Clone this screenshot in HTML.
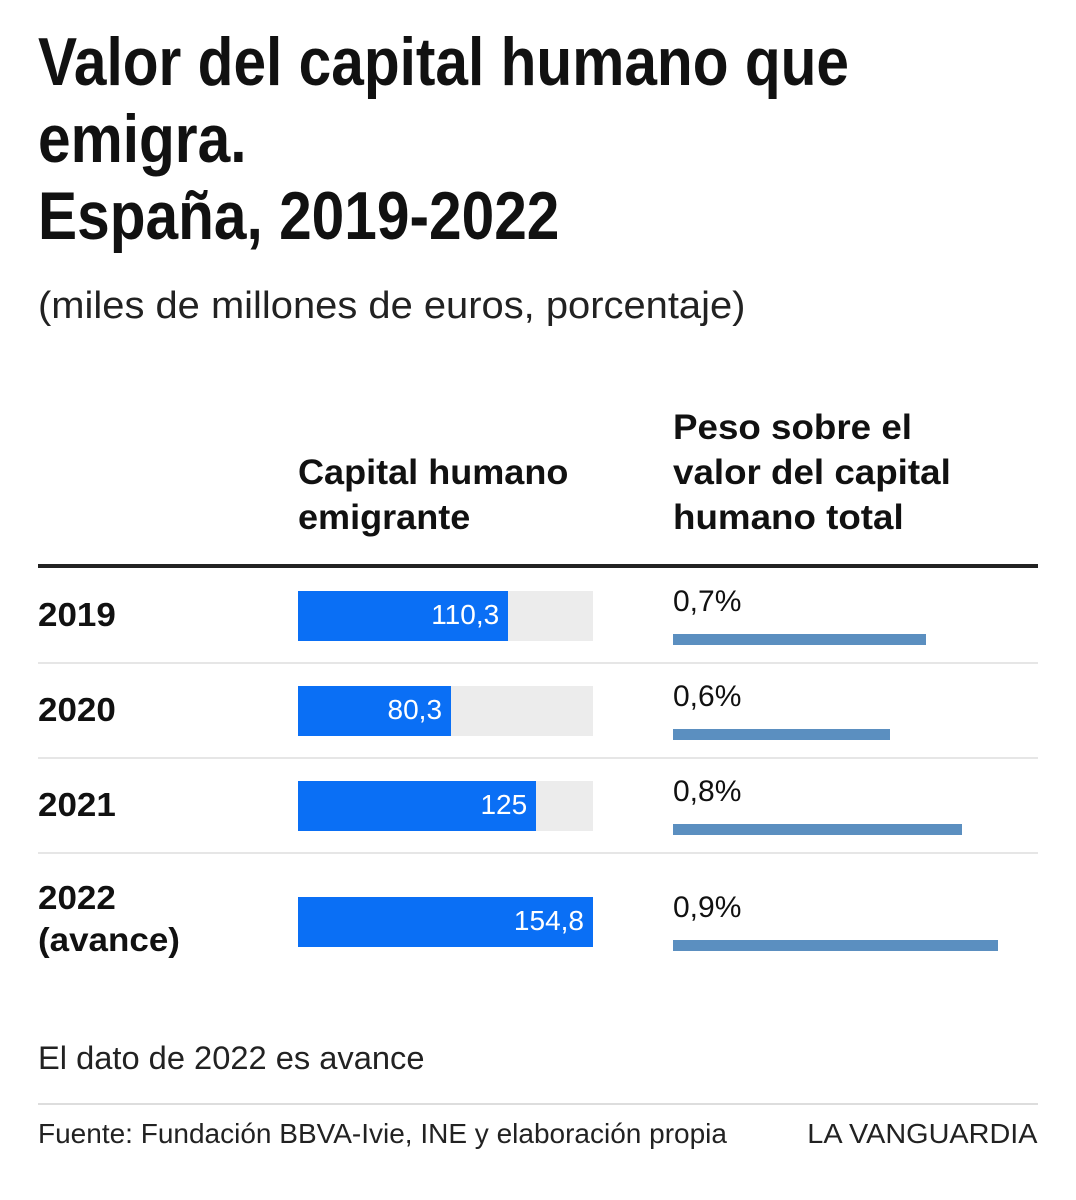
<!DOCTYPE html>
<html><head><meta charset="utf-8">
<style>
body{margin:0;width:1076px;height:1200px;background:#fff;font-family:"Liberation Sans",sans-serif;color:#111;position:relative;overflow:hidden}
.a{position:absolute;white-space:nowrap}
.c{display:inline-block;transform:scaleX(0.862);transform-origin:left center}
.n{display:inline-block;transform-origin:left center}
.nr{display:inline-block;transform-origin:right center}
.t{font-weight:bold;font-size:68px;line-height:77px;left:38px}
.h{font-weight:bold;font-size:35px;line-height:45px}
.yr{font-weight:bold;font-size:33px;left:38px}
.pct{font-size:30px;left:673px}
</style></head><body>
<div class="a t" style="top:24px"><span class="c">Valor del capital humano que<br>emigra.<br>España, 2019-2022</span></div>
<div class="a" style="left:38px;top:285px;font-size:38px;color:#222"><span class="n" style="transform:scaleX(1.05)">(miles de millones de euros, porcentaje)</span></div>
<div class="a h" style="left:298px;top:450px"><span class="n" style="transform:scaleX(1.03)">Capital humano<br>emigrante</span></div>
<div class="a h" style="left:673px;top:405px"><span class="n" style="transform:scaleX(1.05)">Peso sobre el<br>valor del capital<br>humano total</span></div>
<div class="a" style="left:38px;top:564px;width:1000px;height:4px;background:#222"></div>
<div id="rows"></div>
<div class="a" style="left:38px;top:1040px;font-size:32px;color:#222"><span class="n" style="transform:scaleX(1.02)">El dato de 2022 es avance</span></div>
<div class="a" style="left:38px;top:1103px;width:1000px;height:2px;background:#ddd"></div>
<div class="a" style="left:38px;top:1118px;font-size:28px;color:#222"><span class="n">Fuente: Fundación BBVA-Ivie, INE y elaboración propia</span></div>
<div class="a" style="right:38px;top:1118px;font-size:28px;color:#222"><span class="nr" style="transform:scaleX(1.03)">LA VANGUARDIA</span></div>
<script>
const years=["2019","2020","2021","2022<br>(avance)"];
const capital=[110.3,80.3,125,154.8];
const capitalLabels=["110,3","80,3","125","154,8"];
const peso=[0.7,0.6,0.8,0.9];
const pesoLabels=["0,7%","0,6%","0,8%","0,9%"];
const capMax=154.8, trackW=295, pesoMax=0.9, pesoW=325;
const xCap=v=>v/capMax*trackW;
const xPeso=v=>v/pesoMax*pesoW;
const rowTops=[591,686,781,897];
const root=document.getElementById('rows');
function mk(cls,style,html){const d=document.createElement('div');d.className='a '+cls;d.style.cssText=style;d.innerHTML=html||'';root.appendChild(d);return d;}
years.forEach((y,i)=>{
 const t=rowTops[i];
 const yl=mk('yr',(i==3?'top:'+(t-20)+'px;line-height:42px':'top:'+(t+5)+'px'),'<span class="n" style="transform:scaleX(1.06)">'+y+'</span>');
 
 
 const tr=mk('','left:298px;top:'+t+'px;width:'+trackW+'px;height:50px;background:#ececec');
 
 
 const b=mk('','left:298px;top:'+t+'px;width:'+xCap(capital[i])+'px;height:50px;background:#0a6ff5');
 
 
 const lb=mk('','left:298px;top:'+(t+8)+'px;width:'+(xCap(capital[i])-9)+'px;text-align:right;color:#fff;font-size:28px','<span class="nr">'+capitalLabels[i]+'</span>');
 
 
 const pl=mk('pct','top:'+(t-6)+'px','<span class="n">'+pesoLabels[i]+'</span>');
 
 
 const pb=mk('','left:673px;top:'+(t+43)+'px;width:'+xPeso(peso[i])+'px;height:11px;background:#5b8fc0');
 
 
 if(i<3){const s=mk('','left:38px;top:'+(t+71)+'px;width:1000px;height:2px;background:#e6e6e6');
 
 }
});
</script>
</body></html>
